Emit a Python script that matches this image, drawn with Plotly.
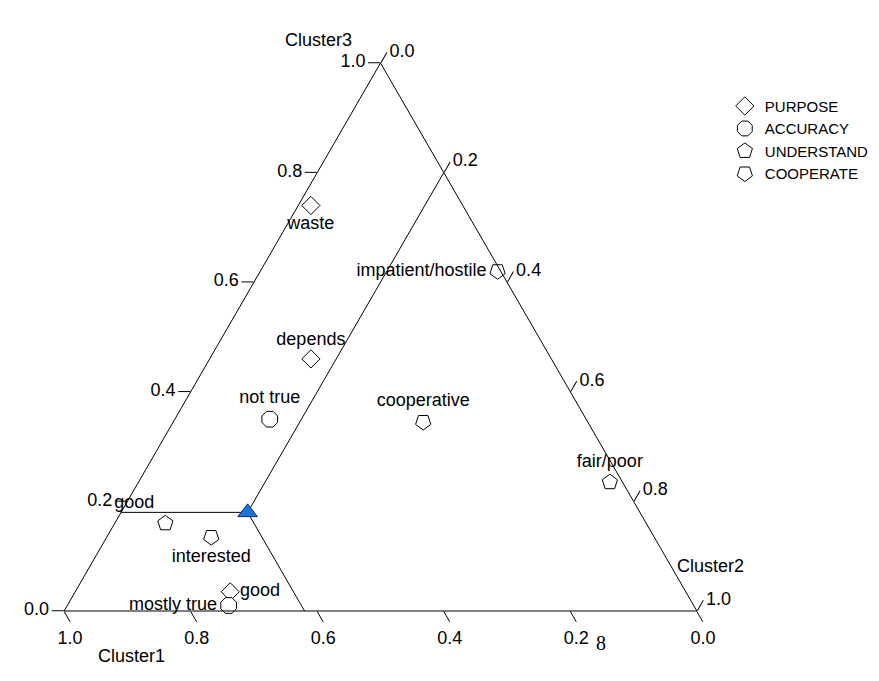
import plotly.graph_objects as go

# Cluster3 = a (top), Cluster1 = b (bottom-left), Cluster2 = c (bottom-right)
purpose_labels = ["waste", "depends", "good"]
purpose_c3 = [0.74, 0.46, 0.035]
purpose_c1 = [0.24, 0.38, 0.72]
purpose_c2 = [0.02, 0.16, 0.245]
purpose_pos = ["bottom center", "top center", "middle right"]

accuracy_labels = ["not true", "mostly true"]
accuracy_c3 = [0.35, 0.01]
accuracy_c1 = [0.50, 0.735]
accuracy_c2 = [0.15, 0.255]
accuracy_pos = ["top center", "middle left"]

understand_labels = ["good", "fair/poor"]
understand_c3 = [0.16, 0.235]
understand_c1 = [0.76, 0.02]
understand_c2 = [0.08, 0.745]
understand_pos = ["top left", "top center"]

cooperate_labels = ["interested", "cooperative", "impatient/hostile"]
cooperate_c3 = [0.135, 0.345, 0.62]
cooperate_c1 = [0.70, 0.26, 0.005]
cooperate_c2 = [0.165, 0.395, 0.375]
cooperate_pos = ["bottom center", "top center", "middle left"]

# reference point and its guide lines to each edge
ref_c3 = 0.18
ref_c1 = 0.62
ref_c2 = 0.20

axis_ticks = [0.0, 0.2, 0.4, 0.6, 0.8, 1.0]

FONT = "Liberation Sans, Arial, sans-serif"
fs = 18

fig = go.Figure()

def add_series(name, a, b, c, labels, pos, symbol, size, angle=0):
    fig.add_trace(go.Scatterternary(
        a=a, b=b, c=c, text=labels, textposition=pos,
        mode="markers+text", name=name,
        marker=dict(symbol=symbol, size=size, color="white", angle=angle,
                    line=dict(color="black", width=1)),
        textfont=dict(family=FONT, size=fs, color="black"),
        cliponaxis=False,
    ))

# guide lines
line_style = dict(color="black", width=1)
fig.add_trace(go.Scatterternary(a=[ref_c3, ref_c3], b=[1 - ref_c3, ref_c1], c=[0, 1 - ref_c3 - ref_c1],
                                mode="lines", line=line_style, showlegend=False, hoverinfo="skip"))
fig.add_trace(go.Scatterternary(a=[0, ref_c3], b=[ref_c1, ref_c1], c=[1 - ref_c1, ref_c2],
                                mode="lines", line=line_style, showlegend=False, hoverinfo="skip"))
fig.add_trace(go.Scatterternary(a=[1 - ref_c2, ref_c3], b=[0, ref_c1], c=[ref_c2, ref_c2],
                                mode="lines", line=line_style, showlegend=False, hoverinfo="skip"))

add_series("PURPOSE", purpose_c3, purpose_c1, purpose_c2, purpose_labels, purpose_pos, "diamond", 14)
add_series("ACCURACY", accuracy_c3, accuracy_c1, accuracy_c2, accuracy_labels, accuracy_pos, "octagon", 17)
add_series("UNDERSTAND", understand_c3, understand_c1, understand_c2, understand_labels, understand_pos, "pentagon", 16)
add_series("COOPERATE", cooperate_c3, cooperate_c1, cooperate_c2, cooperate_labels, cooperate_pos, "pentagon", 16, angle=180)

fig.add_trace(go.Scatterternary(a=[ref_c3], b=[ref_c1], c=[ref_c2], mode="markers",
                                marker=dict(symbol="triangle-up", size=17, color="#1a74d8",
                                            line=dict(color="#0b2a6b", width=1)),
                                showlegend=False, hoverinfo="skip", cliponaxis=False))

axis_common = dict(
    tickmode="array", tickvals=axis_ticks, ticktext=[f"{v:.1f}" for v in axis_ticks],
    ticks="outside", ticklen=12, tickcolor="black", tickwidth=1,
    showgrid=False, showline=True, linecolor="black", linewidth=1,
    tickfont=dict(family=FONT, size=fs, color="black"), title=dict(text=""),
    min=0,
)

fig.update_layout(
    width=879, height=681,
    margin=dict(l=0, r=0, t=0, b=0),
    paper_bgcolor="white", plot_bgcolor="white",
    showlegend=True,
    legend=dict(x=0.985, y=0.88, xanchor="right", yanchor="top",
                font=dict(family=FONT, size=15, color="black"),
                bgcolor="rgba(0,0,0,0)", tracegroupgap=0, itemwidth=30),
    ternary=dict(
        domain=dict(x=[56 / 879, 689 / 879], y=[78 / 681, 626 / 681]),
        bgcolor="white",
        sum=1,
        aaxis=axis_common,
        baxis=axis_common,
        caxis=axis_common,
    ),
    annotations=[
        dict(text="Cluster3", x=310 / 879, y=1 - 20 / 681, xref="paper", yref="paper",
             showarrow=False, font=dict(family=FONT, size=fs, color="black")),
        dict(text="Cluster1", x=88 / 879, y=1 - 660 / 681, xref="paper", yref="paper",
             showarrow=False, font=dict(family=FONT, size=fs, color="black")),
        dict(text="Cluster2", x=738 / 879, y=1 - 570 / 681, xref="paper", yref="paper",
             showarrow=False, font=dict(family=FONT, size=fs, color="black")),
        dict(text="8", x=600 / 879, y=1 - 648 / 681, xref="paper", yref="paper",
             showarrow=False, font=dict(family="Liberation Serif, Times New Roman, serif", size=20, color="black")),
    ],
)

fig.write_html("out.html")
